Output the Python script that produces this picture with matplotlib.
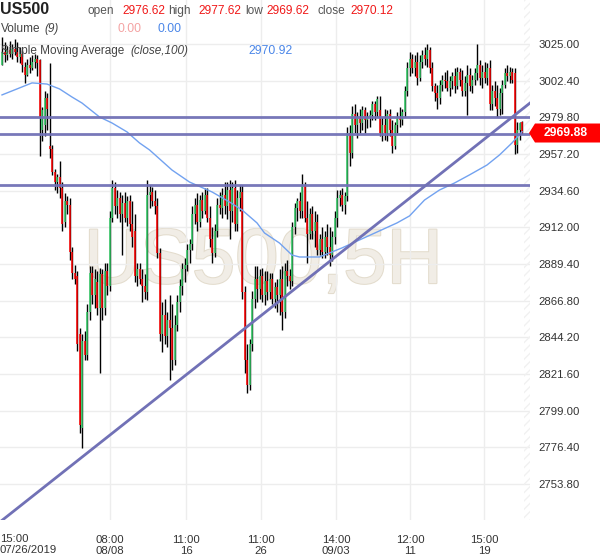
import numpy as np
import matplotlib.pyplot as plt
from matplotlib.patches import Polygon
from matplotlib.transforms import IdentityTransform
import matplotlib.patheffects as pe

plt.rcParams['font.family'] = ['Liberation Sans', 'DejaVu Sans']

# candle data, 5H bars (open, high, low, close)
opens = [3012, 3020, 3018, 3021, 3019, 3022, 3020, 3017, 3019, 3011, 3006, 3012, 3010, 3014, 3016, 3015,
         2972, 2975, 2992, 2962, 2960, 2946, 2940, 2943, 2936, 2915, 2928, 2926, 2897, 2884, 2882, 2846,
         2788, 2842, 2833, 2860, 2884, 2870, 2878, 2862, 2883, 2862, 2885, 2876, 2918, 2936, 2925, 2930,
         2920, 2927, 2918, 2928, 2914, 2910, 2882, 2886, 2880, 2876, 2872, 2932, 2934, 2928, 2925, 2896,
         2846, 2858, 2845, 2855, 2850, 2830, 2852, 2866, 2876, 2886, 2889, 2898, 2902, 2920, 2926, 2915,
         2929, 2922, 2932, 2918, 2905, 2896, 2910, 2926, 2924, 2932, 2925, 2935, 2922, 2936, 2914, 2930,
         2934, 2872, 2830, 2815, 2840, 2868, 2880, 2874, 2882, 2870, 2879, 2872, 2880, 2868, 2875, 2870,
         2880, 2860, 2885, 2882, 2879, 2912, 2924, 2928, 2922, 2938, 2918, 2908, 2920, 2910, 2915, 2898,
         2905, 2897, 2906, 2900, 2895, 2906, 2918, 2930, 2932, 2926, 2931, 2970, 2958, 2982, 2975, 2980,
         2976, 2984, 2978, 2980, 2981, 2988, 2983, 2984, 2970, 2975, 2970, 2982, 2972, 2962, 2975, 2980,
         2978, 2983, 2996, 3010, 3016, 3010, 3014, 3004, 3014, 3018, 3016, 3021, 3010, 2999, 2995, 2992,
         3000, 3003, 3002, 2998, 3002, 3005, 2999, 3008, 3003, 2996, 3001, 3006, 2999, 3003, 3007, 3012,
         3004, 3008, 3004, 3010, 2988, 2996, 2992, 2985, 2995, 3000, 3007, 3005, 3008, 3007, 2963, 2972,
         2976.62]
highs = [3029, 3026, 3024, 3027, 3025, 3028, 3026, 3023, 3021, 3014, 3016, 3017, 3018, 3019, 3018, 3016,
         2986, 2996, 2995, 3013, 2963, 2948, 2945, 2953, 2940, 2933, 2931, 2930, 2900, 2889, 2885, 2850,
         2846, 2848, 2865, 2888, 2888, 2886, 2885, 2887, 2886, 2890, 2890, 2922, 2941, 2940, 2935, 2934,
         2932, 2934, 2931, 2932, 2928, 2920, 2890, 2890, 2886, 2883, 2941, 2938, 2937, 2935, 2930, 2899,
         2866, 2868, 2860, 2870, 2865, 2858, 2870, 2880, 2890, 2893, 2902, 2905, 2925, 2930, 2933, 2932,
         2934, 2936, 2936, 2925, 2912, 2914, 2930, 2934, 2936, 2940, 2940, 2941, 2940, 2941, 2935, 2938,
         2938, 2876, 2840, 2843, 2873, 2888, 2888, 2886, 2887, 2885, 2885, 2884, 2884, 2878, 2880, 2886,
         2888, 2890, 2892, 2886, 2915, 2927, 2930, 2934, 2945, 2940, 2928, 2924, 2925, 2922, 2920, 2908,
         2912, 2910, 2914, 2912, 2910, 2922, 2935, 2935, 2936, 2934, 2974, 2975, 2987, 2988, 2983, 2985,
         2987, 2986, 2983, 2984, 2990, 2990, 2993, 2993, 2980, 2985, 2984, 2985, 2978, 2977, 2983, 2986,
         2985, 2999, 3014, 3020, 3019, 3018, 3020, 3018, 3021, 3023, 3025, 3023, 3014, 3001, 3000, 3003,
         3006, 3008, 3009, 3005, 3008, 3010, 3011, 3010, 3009, 3005, 3012, 3010, 3006, 3010, 3025, 3015,
         3012, 3014, 3013, 3015, 3000, 3002, 3000, 2998, 3003, 3010, 3012, 3011, 3010, 3010, 2977, 2977,
         2977.62]
lows = [3012, 3014, 3015, 3017, 3016, 3018, 3014, 3013, 3008, 3001, 3005, 3007, 3009, 3010, 3005, 2956,
        2965, 2968, 2972, 2955, 2944, 2935, 2933, 2930, 2910, 2912, 2920, 2892, 2880, 2877, 2836, 2785,
        2776, 2830, 2830, 2855, 2865, 2862, 2858, 2822, 2855, 2858, 2870, 2873, 2915, 2920, 2918, 2915,
        2895, 2915, 2913, 2910, 2900, 2878, 2876, 2877, 2866, 2868, 2867, 2924, 2925, 2920, 2893, 2842,
        2835, 2840, 2838, 2818, 2824, 2827, 2848, 2860, 2870, 2878, 2885, 2890, 2898, 2914, 2910, 2912,
        2918, 2920, 2915, 2900, 2890, 2894, 2906, 2920, 2918, 2920, 2917, 2905, 2915, 2910, 2910, 2922,
        2868, 2822, 2810, 2812, 2836, 2862, 2866, 2868, 2866, 2864, 2867, 2868, 2865, 2862, 2860, 2858,
        2849, 2856, 2876, 2874, 2876, 2908, 2916, 2918, 2918, 2915, 2890, 2905, 2905, 2900, 2895, 2895,
        2893, 2893, 2895, 2888, 2891, 2902, 2912, 2925, 2922, 2920, 2928, 2950, 2955, 2970, 2967, 2970,
        2972, 2970, 2973, 2974, 2978, 2978, 2980, 2968, 2965, 2966, 2965, 2968, 2958, 2960, 2970, 2974,
        2975, 2980, 2993, 3005, 3007, 3005, 3000, 3002, 3010, 3012, 3011, 3007, 2996, 2990, 2985, 2988,
        2996, 2998, 2996, 2993, 2997, 2995, 2997, 2999, 2993, 2993, 2981, 2996, 2995, 3000, 3003, 3000,
        2998, 3001, 3000, 2984, 2984, 2987, 2980, 2981, 2982, 2998, 3002, 3001, 3001, 2957, 2958, 2966,
        2969.62]
closes = [3020, 3018, 3021, 3019, 3022, 3020, 3017, 3019, 3012, 3006, 3012, 3010, 3014, 3016, 3013, 2980,
          2984, 2992, 2985, 2960, 2946, 2940, 2943, 2936, 2914, 2928, 2926, 2897, 2884, 2880, 2840, 2790,
          2842, 2833, 2860, 2884, 2870, 2880, 2862, 2883, 2862, 2885, 2876, 2918, 2936, 2925, 2930, 2920,
          2927, 2918, 2928, 2914, 2906, 2882, 2886, 2880, 2876, 2872, 2932, 2934, 2928, 2925, 2896, 2846,
          2858, 2845, 2855, 2850, 2830, 2852, 2866, 2876, 2886, 2889, 2898, 2902, 2920, 2926, 2915, 2929,
          2922, 2932, 2918, 2905, 2896, 2910, 2926, 2924, 2932, 2925, 2935, 2922, 2936, 2914, 2930, 2934,
          2872, 2830, 2815, 2840, 2868, 2880, 2874, 2882, 2870, 2879, 2872, 2880, 2868, 2875, 2870, 2880,
          2860, 2885, 2882, 2879, 2912, 2924, 2928, 2922, 2938, 2918, 2908, 2920, 2910, 2915, 2898, 2905,
          2897, 2906, 2900, 2895, 2906, 2918, 2930, 2932, 2926, 2931, 2970, 2958, 2982, 2975, 2980, 2976,
          2984, 2978, 2980, 2981, 2988, 2983, 2991, 2970, 2975, 2970, 2982, 2972, 2962, 2975, 2980, 2978,
          2983, 2996, 3010, 3016, 3010, 3014, 3004, 3014, 3018, 3016, 3021, 3010, 2999, 2995, 2992, 3000,
          3003, 3002, 2998, 3002, 3005, 2999, 3008, 3003, 2996, 3001, 3006, 2999, 3003, 3007, 3012, 3004,
          3008, 3004, 3010, 2988, 2996, 2992, 2985, 2995, 3000, 3007, 3005, 3008, 3003, 2963, 2972, 2976,
          2970.12]

# SMA(close,100) at some bar indices
ma_idx = [0, 7, 12, 18, 23, 28, 32, 39, 44, 50, 55, 59, 68, 75, 84, 91, 96, 102, 105, 111, 116,
          119, 127, 131, 136, 143, 150, 158, 163, 169, 175, 181, 187, 194, 199, 204, 208]
ma_val = [2993.6, 2997.9, 3001.0, 3000.3, 2997.3, 2992.3, 2988.6, 2980.0, 2976.3, 2970.8, 2964.0,
          2959.7, 2947.3, 2939.9, 2933.8, 2927.6, 2922.7, 2914.7, 2908.5, 2902.3, 2894.9, 2893.7,
          2893.7, 2896.2, 2899.3, 2904.2, 2909.1, 2914.7, 2919.0, 2928.8, 2935.0, 2939.3, 2944.3,
          2950.4, 2956.6, 2964.0, 2970.9]

# drawn levels and trend line
h_levels = [2980.0, 2969.7, 2938.1]
trend_x = [-0.8, 211.2]
trend_y = [2730.4, 2988.6]

y_ticks = [2753.8, 2776.4, 2799.0, 2821.6, 2844.2, 2866.8, 2889.4, 2912.0, 2934.6, 2957.2,
           2979.8, 3002.4, 3025.0]
x_ticks = [43.2, 73.6, 103.6, 133.6, 163.2, 192.8]
x_labels = ['08:00\n08/08', '11:00\n16', '11:00\n26', '14:00\n09/03', '12:00\n11', '15:00\n19']
first_label = '15:00\n07/26/2019'

W, H = 600, 558
fig = plt.figure(figsize=(W / 100, H / 100), dpi=100)
ax = fig.add_axes([0, 1 - 520 / H, 530 / W, 520 / H])
ax.set_xlim(-0.8, 211.2)
ax.set_ylim(2731.6, 3052.1)
for s in ax.spines.values():
    s.set_visible(False)

# grid
ax.set_yticks(y_ticks)
ax.set_yticklabels([f'{v:.2f}' for v in y_ticks])
ax.set_xticks(x_ticks)
ax.set_xticklabels(x_labels)
ax.grid(True, color='#ededed', lw=1)
ax.set_axisbelow(True)
ax.yaxis.tick_right()
ax.tick_params(axis='y', length=0, pad=6, labelsize=8.2, labelcolor='#333333')
ax.tick_params(axis='x', length=0, pad=11, labelsize=8.2, labelcolor='#333333')
for t in ax.get_xticklabels():
    t.set_linespacing(1.05)
ax.text(0, -0.0275, first_label, transform=ax.transAxes, ha='left', va='top',
        fontsize=8.2, color='#333333', linespacing=1.05)

# hatched "future" strip at right edge
ax.axvspan(208.6, 211.2, facecolor='none', edgecolor='#f1f1f1', hatch='////', lw=0)

# watermark
ax.text(0.497, 0.495, 'US500,5H', transform=ax.transAxes, ha='center', va='center',
        fontsize=56, color='#f1ede6', zorder=0.5,
        path_effects=[pe.withStroke(linewidth=1.5, foreground='#e3dccd')])

# candles
idx = np.arange(len(closes))
o = np.array(opens, float)
c = np.array(closes, float)
col = np.where(c >= o, '#33cc66', '#ff0000')
ax.vlines(idx, lows, highs, color='black', lw=1.0, zorder=3)
ax.vlines(idx, o, c, color=col, lw=1.1, zorder=4)

# moving average
ax.plot(ma_idx, ma_val, color='#72a2f0', lw=1, zorder=5)

# levels and trend line
for lv in h_levels:
    ax.axhline(lv, color='#7171b6', lw=2, alpha=0.95, zorder=6)
ax.plot(trend_x, trend_y, color='#7171b6', lw=2, zorder=6)

# current price tag
last = closes[-1]
yd = ax.transData.transform((0, last))[1]
pts = [(529, yd), (535, yd + 9.5), (600, yd + 9.5), (600, yd - 9.5), (535, yd - 9.5)]
fig.add_artist(Polygon(pts, closed=True, transform=IdentityTransform(), fc='#ff0000', ec='none'))
fig.text(566 / W, yd / H, '2969.88', ha='center', va='center', color='white',
         fontsize=8.7, fontweight='bold')


# header
def px(x, y):
    return x / W, 1 - y / H


fig.text(*px(0, 9), 'US500', ha='left', va='center', fontsize=11.5, fontweight='bold', color='#222222')
row1 = [(88, 'open', '#555555'), (122, '2976.62', '#f01818'), (168, 'high', '#555555'),
        (198, '2977.62', '#f01818'), (245, 'low', '#555555'), (266, '2969.62', '#f01818'),
        (318, 'close', '#555555'), (350, '2970.12', '#f01818')]
for x, s, cc in row1:
    fig.text(*px(x, 11), s, ha='left', va='center', fontsize=8.6, color=cc)
fig.text(*px(1, 29), 'Volume', ha='left', va='center', fontsize=8.5, color='#444444')
fig.text(*px(44, 29), '(9)', ha='left', va='center', fontsize=8.5, color='#444444', style='italic')
fig.text(*px(118, 29), '0.00', ha='left', va='center', fontsize=8.8, color='#f4a3a3')
fig.text(*px(158, 29), '0.00', ha='left', va='center', fontsize=8.8, color='#4a86e8')
fig.text(*px(1, 51), 'Simple Moving Average', ha='left', va='center', fontsize=8.5, color='#444444')
fig.text(*px(130, 51), '(close,100)', ha='left', va='center', fontsize=8.5, color='#444444',
         style='italic')
fig.text(*px(248, 51), '2970.92', ha='left', va='center', fontsize=8.8, color='#4a86e8')

fig.savefig('out.png', dpi=100)
